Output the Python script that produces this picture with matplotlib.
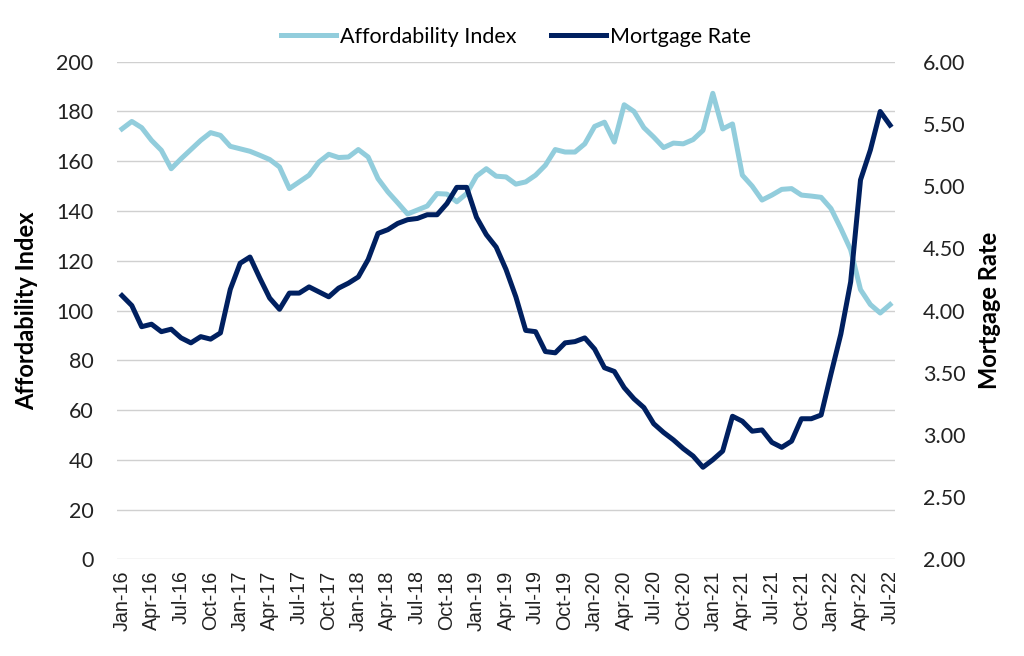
import matplotlib
matplotlib.use("Agg")
import matplotlib.pyplot as plt

# monthly values, Jan-16 .. Jul-22
afford = [173, 176, 173.5, 168.4, 164.4, 157, 161, 164.7, 168.4, 171.5, 170.4, 166,
          165, 164, 162.4, 160.7, 157.7, 149, 151.7, 154.4, 159.7, 162.8, 161.5, 161.7,
          164.7, 161.7, 153, 147.7, 143.3, 138.8, 140.4, 142, 147, 146.8, 143.7, 147,
          154, 157, 154, 153.7, 150.8, 151.7, 154.4, 158.4, 164.7, 163.7, 163.7, 167,
          174, 175.7, 167.7, 182.7, 180, 173.5, 169.7, 165.5, 167.3, 167, 168.7, 172.4,
          187.3, 173, 175, 154.4, 150, 144.4, 146.4, 148.7, 149, 146.4, 146, 145.5,
          141, 133, 124.4, 108.4, 102.4, 99, 102.4]
rate = [4.12, 4.04, 3.87, 3.89, 3.83, 3.85, 3.78, 3.74, 3.79, 3.77, 3.82, 4.17,
        4.38, 4.43, 4.26, 4.10, 4.01, 4.14, 4.14, 4.19, 4.15, 4.11, 4.18, 4.22,
        4.27, 4.41, 4.62, 4.65, 4.70, 4.73, 4.74, 4.77, 4.77, 4.86, 4.99, 4.99,
        4.75, 4.61, 4.51, 4.33, 4.11, 3.84, 3.83, 3.67, 3.66, 3.74, 3.75, 3.78,
        3.69, 3.54, 3.51, 3.38, 3.29, 3.22, 3.09, 3.02, 2.96, 2.89, 2.83, 2.74,
        2.80, 2.87, 3.15, 3.11, 3.03, 3.04, 2.94, 2.90, 2.95, 3.13, 3.13, 3.16,
        3.49, 3.81, 4.23, 5.05, 5.29, 5.60, 5.49]

months = ["Jan", "Apr", "Jul", "Oct"]
tick_labels = [f"{m}-{y}" for y in range(16, 23) for m in months][:27]

light = "#92CDDC"
navy = "#002060"

plt.rcParams['font.family'] = ['Lato', 'DejaVu Sans']

fig = plt.figure(figsize=(10.24, 6.56), dpi=100)
ax = fig.add_axes([0.1143, 0.1474, 0.7597, 0.7585])
ax2 = ax.twinx()

x = list(range(len(afford)))
l1, = ax.plot(x, afford, color=light, lw=3.6, solid_joinstyle='round', label="Affordability Index")
l2, = ax2.plot(x, rate, color=navy, lw=3.6, solid_joinstyle='round', label="Mortgage Rate")

ax.set_xlim(-0.5, len(afford) - 0.5)
ax.set_ylim(0, 200)
ax.set_yticks(range(0, 201, 20))
ax2.set_ylim(2, 6)
ax2.set_yticks([2 + 0.5 * i for i in range(9)])
ax2.set_yticklabels([f"{2 + 0.5 * i:.2f}" for i in range(9)])

ax.set_xticks(range(0, len(afford), 3))
ax.set_xticklabels(tick_labels, rotation=90, family=['Liberation Sans'])

ax.grid(axis='y', color='#D0D0D0', lw=1)
ax.set_axisbelow(True)
for a in (ax, ax2):
    for s in a.spines.values():
        s.set_visible(False)
    a.tick_params(length=0, labelsize=15.5, colors='#222222')
ax.tick_params(axis='x', labelsize=14.2, pad=8)
ax.tick_params(axis='y', pad=17)
ax2.tick_params(axis='y', pad=20)

ax.set_ylabel("Affordability Index", fontsize=17, fontweight='bold', labelpad=13)
ax2.set_ylabel("Mortgage Rate", fontsize=17, fontweight='bold', labelpad=9)

fig.legend(handles=[l1, l2], loc='center', bbox_to_anchor=(0.504, 0.944), ncol=2,
           frameon=False, fontsize=15.5, handlelength=2.56, handletextpad=0.2,
           columnspacing=1.6)

fig.savefig("out.png", dpi=100)
